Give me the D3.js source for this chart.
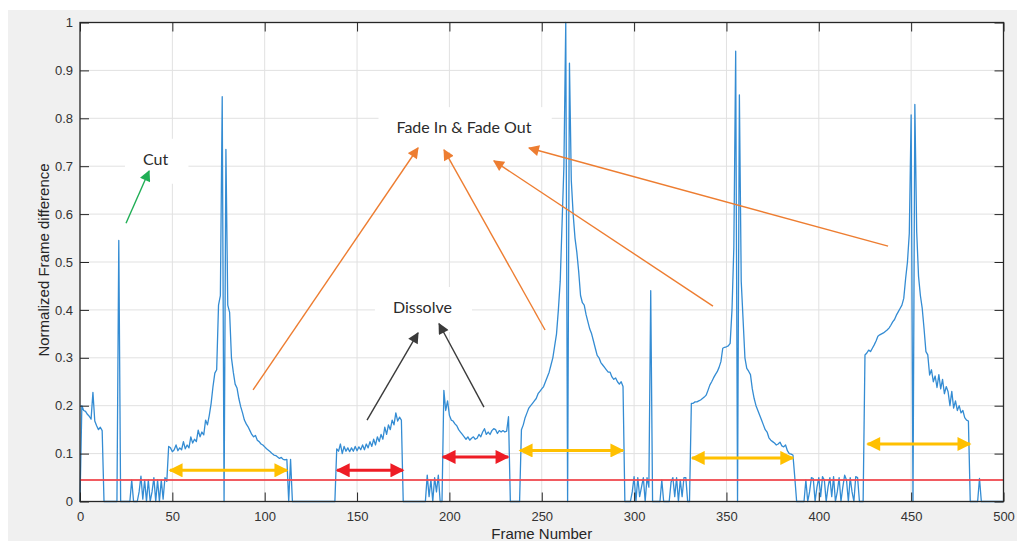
<!DOCTYPE html>
<html>
<head>
<meta charset="utf-8">
<script src="https://cdn.jsdelivr.net/npm/d3@7"></script>
<style>
  body { margin: 0; background: #fff; }
  .tick text { font-family: "Liberation Sans", Arial, sans-serif; font-size: 13px; fill: #333; }
  .axis-label { font-family: "Liberation Sans", Arial, sans-serif; font-size: 15px; fill: #262626; }
  .note { font-family: Lato, "Open Sans", sans-serif; font-size: 16px; fill: #2b2b2b; }
</style>
</head>
<body>
<div id="chart-area"></div>
<script>
// normalized frame difference, one value per frame (0..500)
let frameDiff = [
  0, 0.2, 0.19, 0.188, 0.182, 0.178, 0.172, 0.228, 0.168, 0.158,          // 0
  0.15, 0.155, 0.148, 0, 0, 0, 0, 0, 0, 0,                                  // 10
  0, 0.545, 0, 0, 0, 0, 0, 0, 0.045, 0,                                     // 20
  0, 0, 0.02, 0.053, 0.005, 0.045, 0, 0.045, 0, 0.02,                       // 30
  0.05, 0, 0.045, 0, 0.045, 0.005, 0.05, 0.042, 0.115, 0.112,               // 40
  0.104, 0.108, 0.118, 0.106, 0.112, 0.108, 0.125, 0.11, 0.118, 0.112,      // 50
  0.135, 0.122, 0.13, 0.125, 0.149, 0.135, 0.145, 0.139, 0.17, 0.16,        // 60
  0.18, 0.205, 0.24, 0.268, 0.275, 0.41, 0.43, 0.845, 0, 0.735,             // 70
  0.41, 0.395, 0.3, 0.27, 0.245, 0.237, 0.215, 0.198, 0.185, 0.17,          // 80
  0.162, 0.156, 0.148, 0.14, 0.135, 0.138, 0.128, 0.125, 0.12, 0.118,       // 90
  0.114, 0.11, 0.107, 0.104, 0.1, 0.097, 0.096, 0.093, 0.09, 0.092,         // 100
  0.088, 0.087, 0.088, 0, 0.088, 0, 0, 0, 0, 0,                             // 110
  0, 0, 0, 0, 0, 0, 0, 0, 0, 0,                                             // 120
  0, 0, 0, 0, 0, 0, 0, 0, 0, 0.11,                                          // 130
  0.105, 0.12, 0.1, 0.115, 0.105, 0.112, 0.104, 0.112, 0.105, 0.115,        // 140
  0.106, 0.114, 0.108, 0.118, 0.108, 0.12, 0.112, 0.125, 0.115, 0.13,       // 150
  0.118, 0.135, 0.125, 0.14, 0.13, 0.155, 0.14, 0.16, 0.15, 0.17,           // 160
  0.16, 0.185, 0.168, 0.176, 0.17, 0, 0, 0, 0, 0,                           // 170
  0, 0, 0, 0, 0, 0, 0, 0, 0.055, 0.01,                                      // 180
  0.045, 0, 0.05, 0.02, 0.055, 0, 0, 0.232, 0.19, 0.21,                     // 190
  0.18, 0.17, 0.168, 0.162, 0.158, 0.15, 0.145, 0.14, 0.135, 0.13,          // 200
  0.135, 0.128, 0.132, 0.135, 0.13, 0.132, 0.14, 0.135, 0.145, 0.152,       // 210
  0.14, 0.145, 0.14, 0.148, 0.152, 0.15, 0.142, 0.148, 0.145, 0.148,        // 220
  0.145, 0.147, 0.177, 0, 0, 0, 0, 0, 0, 0.15,                              // 230
  0.16, 0.175, 0.185, 0.195, 0.2, 0.205, 0.21, 0.215, 0.225, 0.23,          // 240
  0.235, 0.24, 0.25, 0.26, 0.27, 0.285, 0.3, 0.325, 0.35, 0.4,              // 250
  0.46, 0.58, 0.7, 1.0, 0, 0.915, 0.67, 0.6, 0.55, 0.52,                    // 260
  0.48, 0.43, 0.415, 0.41, 0.39, 0.375, 0.36, 0.35, 0.335, 0.32,            // 270
  0.305, 0.3, 0.29, 0.285, 0.28, 0.275, 0.27, 0.27, 0.26, 0.255,            // 280
  0.258, 0.25, 0.245, 0.25, 0.24, 0, 0, 0, 0, 0.02,                         // 290
  0.052, 0, 0.05, 0.01, 0.03, 0.05, 0, 0.05, 0.03, 0.44,                    // 300
  0, 0, 0, 0, 0, 0.045, 0, 0, 0, 0,                                         // 310
  0.04, 0.05, 0.01, 0.05, 0, 0.045, 0.01, 0.05, 0.05, 0,                    // 320
  0, 0.205, 0.205, 0.208, 0.208, 0.21, 0.212, 0.215, 0.218, 0.222,          // 330
  0.232, 0.243, 0.25, 0.258, 0.265, 0.271, 0.28, 0.292, 0.32, 0.322,        // 340
  0.323, 0.325, 0.33, 0.4, 0.53, 0.94, 0, 0.849, 0.46, 0.38,                // 350
  0.3, 0.278, 0.272, 0.265, 0.235, 0.215, 0.2, 0.19, 0.18, 0.17,            // 360
  0.16, 0.15, 0.145, 0.133, 0.128, 0.125, 0.122, 0.118, 0.12, 0.124,        // 370
  0.116, 0.114, 0.118, 0.106, 0.1, 0.099, 0.097, 0.05, 0, 0,                // 380
  0, 0, 0, 0.045, 0, 0.02, 0.05, 0.048, 0, 0.03,                            // 390
  0.05, 0.01, 0.052, 0.045, 0, 0.03, 0.05, 0.01, 0.052, 0,                  // 400
  0.02, 0.05, 0, 0.03, 0.055, 0.045, 0, 0.05, 0.02, 0,                      // 410
  0.052, 0.05, 0, 0, 0, 0.306, 0.31, 0.316, 0.313, 0.32,                    // 420
  0.327, 0.335, 0.345, 0.348, 0.35, 0.352, 0.355, 0.358, 0.362, 0.368,      // 430
  0.375, 0.38, 0.389, 0.396, 0.403, 0.41, 0.424, 0.465, 0.5, 0.56,          // 440
  0.807, 0, 0.829, 0.563, 0.47, 0.43, 0.403, 0.36, 0.313, 0.306,            // 450
  0.264, 0.275, 0.25, 0.262, 0.238, 0.265, 0.235, 0.255, 0.225, 0.24,       // 460
  0.229, 0.2, 0.23, 0.195, 0.21, 0.19, 0.2, 0.185, 0.19, 0.175,             // 470
  0.17, 0.168, 0, 0, 0, 0, 0, 0.048, 0, 0,                                  // 480
  0, 0, 0, 0, 0, 0, 0, 0, 0, 0, 0                                           // 490
];

let threshold = 0.045;
let xTicks = [0, 50, 100, 150, 200, 250, 300, 350, 400, 450, 500];
let yTicks = [0, 0.1, 0.2, 0.3, 0.4, 0.5, 0.6, 0.7, 0.8, 0.9, 1];
let xTitle = "Frame Number";
let yTitle = "Normalized Frame difference";

// annotation texts: [label, frame, value]
let notes = [
  ["Cut", 40.9, 0.703],
  ["Fade In & Fade Out", 207.9, 0.769],
  ["Dissolve", 185.4, 0.3935]
];

// pointer arrows: [fromFrame, fromValue, toFrame, toValue, kind]
let pointers = [
  [93.7, 0.233, 183.0, 0.738, "fade"],
  [251.8, 0.358, 197.1, 0.734, "fade"],
  [342.7, 0.408, 224.1, 0.711, "fade"],
  [437.5, 0.533, 243.1, 0.738, "fade"],
  [155.4, 0.170, 183.0, 0.352, "dissolve"],
  [218.7, 0.197, 194.4, 0.371, "dissolve"],
  [24.9, 0.581, 37.4, 0.690, "cut"]
];

// transition spans: [startFrame, endFrame, value, kind]
let spans = [
  [48.7, 112.1, 0.065, "fade"],
  [139.2, 174.9, 0.065, "dissolve"],
  [196.5, 231.8, 0.093, "dissolve"],
  [238.2, 294.0, 0.1065, "fade"],
  [331.4, 386.0, 0.091, "fade"],
  [426.4, 481.9, 0.12, "fade"]
];

let pointerColour = {fade: "#ed7d31", dissolve: "#3a3a3a", cut: "#1fae55"};
let spanColour = {fade: "#ffc000", dissolve: "#ee1c25"};

let margin = {top: 22.5, left: 80},
    width = 923.5,
    height = 479;

let svg = d3.select("#chart-area")
    .append("svg")
        .attr("width", 1017)
        .attr("height", 541);

// figure background
svg.append("rect")
    .attr("x", 8).attr("y", 10)
    .attr("width", 1009).attr("height", 531)
    .attr("fill", "#f0f0f0");

let defs = svg.append("defs");
function marker(id, colour, len, wid) {
    defs.append("marker")
        .attr("id", id)
        .attr("viewBox", "0 0 10 10")
        .attr("refX", 9).attr("refY", 5)
        .attr("markerUnits", "userSpaceOnUse")
        .attr("markerWidth", len).attr("markerHeight", wid)
        .attr("orient", "auto-start-reverse")
        .append("path")
            .attr("d", "M0,0 L10,5 L0,10 z")
            .attr("fill", colour);
}
Object.keys(pointerColour).forEach(k => marker("ptr-" + k, pointerColour[k], 13, 11));
Object.keys(spanColour).forEach(k => marker("span-" + k, spanColour[k], 15, 14));

let g = svg.append("g")
    .attr("transform", "translate(" + margin.left + ", " + margin.top + ")");

g.append("rect")
    .attr("width", width).attr("height", height)
    .attr("fill", "#fff");

let x = d3.scaleLinear().domain([0, 500]).range([0, width]);
let y = d3.scaleLinear().domain([0, 1]).range([height, 0]);

// grid
g.append("g").selectAll("line")
    .data(xTicks.slice(1, -1))
    .enter().append("line")
        .attr("x1", d => x(d)).attr("x2", d => x(d))
        .attr("y1", 0).attr("y2", height)
        .attr("stroke", "#e1e1e1");
g.append("g").selectAll("line")
    .data(yTicks.slice(1, -1))
    .enter().append("line")
        .attr("y1", d => y(d)).attr("y2", d => y(d))
        .attr("x1", 0).attr("x2", width)
        .attr("stroke", "#e1e1e1");

// white boxes behind annotation texts
let boxLayer = g.append("g");

// signal
let line = d3.line()
    .x((d, i) => x(i))
    .y(d => y(d));

g.append("path")
    .datum(frameDiff)
    .attr("d", line)
    .attr("fill", "none")
    .attr("stroke", "#348cd3")
    .attr("stroke-width", 1.3)
    .attr("stroke-linejoin", "round");

// threshold
g.append("line")
    .attr("x1", x(0)).attr("x2", x(500))
    .attr("y1", y(threshold)).attr("y2", y(threshold))
    .attr("stroke", "#f04a50")
    .attr("stroke-width", 2)
    .attr("opacity", 0.9);

// axes, MATLAB style ticks pointing inward
let xAxisCall = d3.axisBottom(x).tickValues(xTicks).tickSize(-9).tickPadding(10.5).tickFormat(d3.format("d"));
let yAxisCall = d3.axisLeft(y).tickValues(yTicks).tickSize(-9).tickPadding(7).tickFormat(d => +d.toFixed(1));

g.append("g").attr("transform", "translate(0, " + height + ")").call(xAxisCall);
g.append("g").call(yAxisCall);
g.append("g").call(d3.axisTop(x).tickValues(xTicks).tickSize(-9).tickFormat(""));
g.append("g").attr("transform", "translate(" + width + ", 0)")
    .call(d3.axisRight(y).tickValues(yTicks).tickSize(-9).tickFormat(""));

g.selectAll(".domain").remove();
g.selectAll(".tick line").attr("stroke", "#262626");

g.append("rect")
    .attr("width", width).attr("height", height)
    .attr("fill", "none")
    .attr("stroke", "#262626")
    .attr("stroke-width", 1.3);

// axis titles
svg.append("text")
    .attr("class", "axis-label")
    .attr("x", margin.left + width / 2)
    .attr("y", 539)
    .attr("text-anchor", "middle")
    .text(xTitle);

svg.append("text")
    .attr("class", "axis-label")
    .attr("x", -260)
    .attr("y", 48.5)
    .attr("text-anchor", "middle")
    .attr("transform", "rotate(-90)")
    .text(yTitle);

// span arrows
g.append("g").selectAll("line")
    .data(spans)
    .enter().append("line")
        .attr("x1", d => x(d[0])).attr("x2", d => x(d[1]))
        .attr("y1", d => y(d[2])).attr("y2", d => y(d[2]))
        .attr("stroke", d => spanColour[d[3]])
        .attr("stroke-width", 3)
        .attr("marker-start", d => "url(#span-" + d[3] + ")")
        .attr("marker-end", d => "url(#span-" + d[3] + ")");

// pointer arrows
g.append("g").selectAll("line")
    .data(pointers)
    .enter().append("line")
        .attr("x1", d => x(d[0])).attr("y1", d => y(d[1]))
        .attr("x2", d => x(d[2])).attr("y2", d => y(d[3]))
        .attr("stroke", d => pointerColour[d[4]])
        .attr("stroke-width", 1.4)
        .attr("marker-end", d => "url(#ptr-" + d[4] + ")");

// annotation texts
let noteText = g.append("g").selectAll("text")
    .data(notes)
    .enter().append("text")
        .attr("class", "note")
        .attr("x", d => x(d[1]))
        .attr("y", d => y(d[2]))
        .attr("text-anchor", "middle")
        .text(d => d[0]);

noteText.each(function() {
    let b = this.getBBox();
    boxLayer.append("rect")
        .attr("x", b.x - 18).attr("y", b.y - 10)
        .attr("width", b.width + 38).attr("height", b.height + 26)
        .attr("fill", "#fff");
});
</script>
</body>
</html>
